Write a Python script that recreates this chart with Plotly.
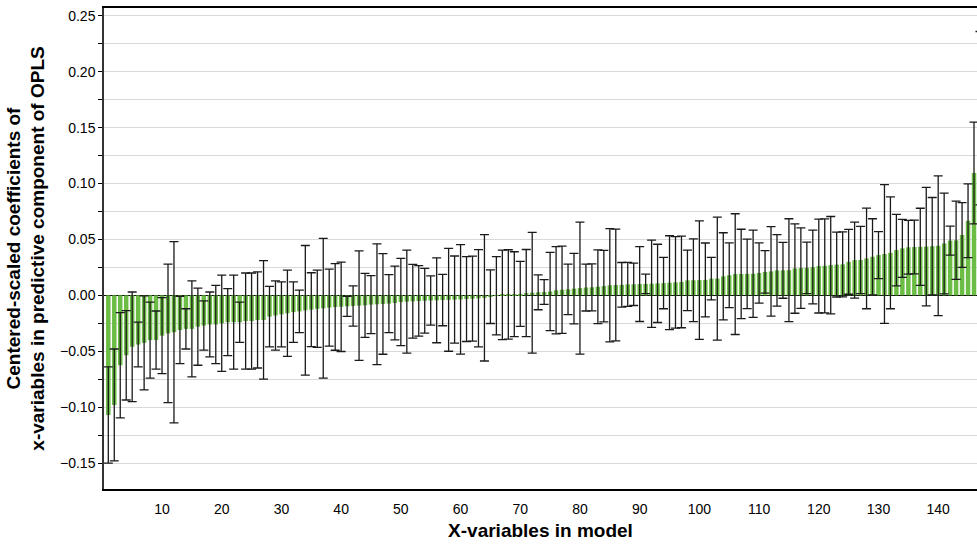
import plotly.graph_objects as go

# Variable index (sorted by coefficient)
var_index = list(range(1, 148))

coefficients = [
    -0.107, -0.098, -0.0625, -0.0536, -0.046, -0.044, -0.0425, -0.040, -0.040, -0.036,
    -0.034, -0.033, -0.031, -0.030, -0.030, -0.028, -0.027, -0.026, -0.026, -0.025,
    -0.024, -0.024, -0.024, -0.023, -0.023, -0.022, -0.022, -0.019, -0.018, -0.017,
    -0.016, -0.015, -0.0143, -0.0134, -0.0128, -0.012, -0.0116, -0.011, -0.0104, -0.0102,
    -0.0098, -0.0095, -0.0092, -0.0089, -0.0083, -0.008, -0.0077, -0.0074, -0.0068, -0.006,
    -0.0056, -0.0053, -0.005, -0.0048, -0.0046, -0.0044, -0.0042, -0.004, -0.0038, -0.0036,
    -0.0033, -0.003, -0.0026, -0.0022, -0.0012, -0.0004, 0.0004, 0.0008, 0.0010, 0.0013,
    0.0020, 0.0024, 0.0027, 0.0030, 0.0034, 0.0045, 0.0050, 0.0054, 0.0060, 0.0065,
    0.0070, 0.0072, 0.0077, 0.0083, 0.0090, 0.0092, 0.0094, 0.0098, 0.0099, 0.0101,
    0.0102, 0.0104, 0.0107, 0.0110, 0.0113, 0.0116, 0.0120, 0.0134, 0.0135, 0.0136,
    0.0138, 0.0149, 0.0150, 0.0170, 0.0180, 0.0190, 0.0191, 0.0192, 0.0193, 0.0200,
    0.0210, 0.0214, 0.0223, 0.0224, 0.0225, 0.0240, 0.0244, 0.0246, 0.0253, 0.0262,
    0.0264, 0.0270, 0.0275, 0.0277, 0.0300, 0.0315, 0.0316, 0.0330, 0.0345, 0.0360,
    0.0370, 0.0380, 0.0405, 0.0420, 0.0430, 0.0432, 0.0434, 0.0436, 0.0440, 0.0443,
    0.0464, 0.0490, 0.0492, 0.0540, 0.0667, 0.1095, 0.1585,
]

conf_int = [
    0.043, 0.050, 0.047, 0.040, 0.049, 0.020, 0.042, 0.034, 0.026, 0.034,
    0.062, 0.081, 0.030, 0.018, 0.043, 0.0345, 0.022, 0.029, 0.035, 0.043,
    0.030, 0.042, 0.018, 0.043, 0.043, 0.043, 0.053, 0.027, 0.031, 0.029,
    0.0385, 0.027, 0.019, 0.058, 0.033, 0.0345, 0.0625, 0.0345, 0.0387, 0.040,
    0.009, 0.018, 0.049, 0.0286, 0.026, 0.054, 0.045, 0.026, 0.033, 0.039,
    0.046, 0.033, 0.0315, 0.029, 0.022, 0.038, 0.023, 0.046, 0.039, 0.049,
    0.038, 0.038, 0.0435, 0.0565, 0.024, 0.035, 0.040, 0.040, 0.038, 0.029,
    0.039, 0.054, 0.0156, 0.011, 0.035, 0.039, 0.039, 0.0226, 0.0315, 0.059,
    0.021, 0.021, 0.033, 0.032, 0.0506, 0.050, 0.020, 0.0197, 0.019, 0.0335,
    0.0087, 0.039, 0.035, 0.023, 0.042, 0.041, 0.041, 0.027, 0.037, 0.053,
    0.033, 0.019, 0.055, 0.039, 0.029, 0.054, 0.040, 0.031, 0.039, 0.027,
    0.019, 0.040, 0.032, 0.025, 0.046, 0.040, 0.036, 0.023, 0.033, 0.042,
    0.042, 0.0435, 0.029, 0.029, 0.029, 0.034, 0.030, 0.045, 0.034, 0.021,
    0.062, 0.050, 0.032, 0.026, 0.024, 0.024, 0.0345, 0.053, 0.0435, 0.0625,
    0.045, 0.013, 0.035, 0.029, 0.033, 0.0455, 0.0775,
]

x_tick_vals = [10, 20, 30, 40, 50, 60, 70, 80, 90, 100, 110, 120, 130, 140]
y_tick_vals = [-0.15, -0.10, -0.05, 0.00, 0.05, 0.10, 0.15, 0.20, 0.25]

fig = go.Figure()
fig.add_trace(go.Bar(
    x=var_index,
    y=coefficients,
    width=0.75,
    marker=dict(color="#6cbd45", line=dict(width=0)),
    error_y=dict(type="data", array=conf_int, visible=True,
                 color="#1a1a1a", thickness=1.3, width=4.5),
    showlegend=False,
))

font_family = "Liberation Sans, Arial, sans-serif"
fig.update_layout(
    width=977, height=546,
    margin=dict(l=104, r=0, t=8, b=57, autoexpand=False),
    paper_bgcolor="white", plot_bgcolor="white",
    font=dict(family=font_family, size=14, color="black"),
    bargap=0.25,
)
fig.update_xaxes(
    range=[0.28, 146.5],
    tickvals=x_tick_vals,
    ticks="", showgrid=False, zeroline=False,
    showline=True, linecolor="black", linewidth=1.5, mirror=True,
    tickfont=dict(size=14), automargin=False, ticklabelstandoff=6,
    title=dict(text="<b>X-variables in model</b>", font=dict(size=19), standoff=8),
)
fig.update_yaxes(
    range=[-0.1732, 0.257],
    tickvals=y_tick_vals,
    tickformat=".2f",
    ticks="outside", ticklen=4, tickcolor="black", tickwidth=1,
    showgrid=True, gridcolor="#d9d9d9", gridwidth=1.2,
    minor=dict(dtick=0.025, tick0=0, ticks="outside", ticklen=4, tickcolor="black",
               showgrid=True, gridcolor="#d9d9d9", gridwidth=1.2),
    zeroline=True, zerolinecolor="black", zerolinewidth=1,
    showline=True, linecolor="#333333", linewidth=1.5,
    tickfont=dict(size=14), automargin=False,
    title=dict(text="<b>Centered-scaled coefficients of<br>x-variables in predictive component of OPLS</b>",
               font=dict(size=19), standoff=10),
)

fig.write_html(
    "out.html",
    config={"displayModeBar": False},
    post_script="document.body.style.margin='0';document.body.style.overflow='hidden';",
)
